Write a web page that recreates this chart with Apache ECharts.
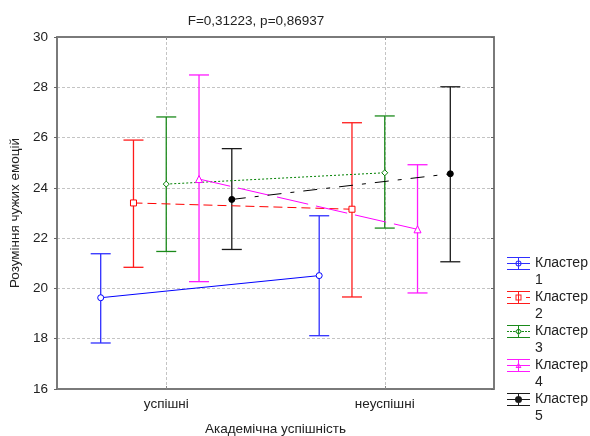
<!DOCTYPE html>
<html><head><meta charset="utf-8">
<script src="https://cdn.jsdelivr.net/npm/echarts@6/dist/echarts.min.js"></script>
<style>html,body{margin:0;padding:0;background:#fff}#c{width:590px;height:436px}</style>
</head><body><div id="c"></div>
<script>
// ---- data ----
const categories = ['успішні', 'неуспішні'];
const clusterNames = ['Кластер 1', 'Кластер 2', 'Кластер 3', 'Кластер 4', 'Кластер 5'];
const yTicks = [16, 18, 20, 22, 24, 26, 28, 30];
const mean1 = [19.63, 20.51], low1 = [17.83, 18.12], high1 = [21.38, 22.89];
const mean2 = [23.40, 23.15], low2 = [20.84, 19.66], high2 = [25.90, 26.59];
const mean3 = [24.15, 24.60], low3 = [21.47, 22.40], high3 = [26.82, 26.86];
const mean4 = [24.35, 22.35], low4 = [20.27, 19.82], high4 = [28.49, 24.92];
const mean5 = [23.54, 24.56], low5 = [21.55, 21.06], high5 = [25.56, 28.02];
const titleText = 'F=0,31223, p=0,86937';
const xName = 'Академічна успішність';
const yName = 'Розуміння чужих емоцій';

// ---- styling ----
const means = [mean1, mean2, mean3, mean4, mean5];
const lows = [low1, low2, low3, low4, low5];
const highs = [high1, high2, high3, high4, high5];
const colors = ['#0000ff', '#ff0000', '#008000', '#ff00ff', '#000000'];
const barColors = ['#2f2fff', '#ff1a1a', '#1a8a1a', '#ff1aff', '#1a1a1a'];
const symbols = ['circle', 'rect', 'diamond', 'triangle', 'circle'];
const hollow = [true, true, true, true, false];
const lineTypes = ['solid', [9, 5], [2, 2], [32, 8], [14, 9, 4, 9]];
const FONT = 'Liberation Sans, Arial, sans-serif';
const FS = 13.5;
const OFF = 0.3; // cluster offset in category-slot units

const slotLabels = ['', categories[0], '', categories[1], ''];
function xPos(catIdx, k) { return 2 * catIdx + 1 + (k - 2) * OFF; }

function iconPath(k) {
  // 23 x 34 box; icon in top half (all filled shapes clockwise, holes counter-clockwise)
  let p = 'M0,0 L0,0 M23,34 L23,34 ';
  p += 'M0,2 H23 V3 H0 Z M0,14 H23 V15 H0 Z M11,3 H12 V14 H11 Z ';
  if (k === 1) p += 'M0,8 H4 V9 H0 Z M19,8 H23 V9 H19 Z ';
  else if (k === 2) p += 'M0,8 H2 V9 H0 Z M3,8 H5 V9 H3 Z M6,8 H8 V9 H6 Z M15,8 H17 V9 H15 Z M18,8 H20 V9 H18 Z M21,8 H23 V9 H21 Z ';
  else p += 'M0,8 H23 V9 H0 Z ';
  if (k === 0) p += 'M8.5,8.5 A3,3 0 1,1 14.5,8.5 A3,3 0 1,1 8.5,8.5 Z M9.5,8.5 A2,2 0 1,0 13.5,8.5 A2,2 0 1,0 9.5,8.5 Z ';
  if (k === 1) p += 'M8.5,5.5 H14.5 V11.5 H8.5 Z M9.5,6.5 V10.5 H13.5 V6.5 Z ';
  if (k === 2) p += 'M11.5,5 L15,8.5 L11.5,12 L8,8.5 Z M11.5,6.4 L9.4,8.5 L11.5,10.6 L13.6,8.5 Z ';
  if (k === 3) p += 'M11.5,5.5 L14.5,11 L8.5,11 Z M11.5,7.5 L10.2,10 L12.8,10 Z ';
  if (k === 4) p += 'M8,8.5 A3.5,3.5 0 1,1 15,8.5 A3.5,3.5 0 1,1 8,8.5 Z ';
  return 'path://' + p;
}

const series = [];
for (let k = 0; k < 5; k++) {
  const c = barColors[k];
  series.push({
    type: 'custom', xAxisIndex: 2, yAxisIndex: 0, z: 2, silent: true,
    data: categories.map((_, i) => [xPos(i, k), lows[k][i], highs[k][i]]),
    renderItem: (params, api) => {
      const a = api.coord([api.value(0), api.value(1)]);
      const b = api.coord([api.value(0), api.value(2)]);
      const cx = a[0], yl = a[1], yh = b[1];
      const hw = 10;
      const st = { stroke: c, lineWidth: 1.3 };
      return { type: 'group', children: [
        { type: 'line', shape: { x1: cx, y1: yh, x2: cx, y2: yl }, style: st },
        { type: 'line', shape: { x1: cx - hw, y1: yh, x2: cx + hw, y2: yh }, style: st },
        { type: 'line', shape: { x1: cx - hw, y1: yl, x2: cx + hw, y2: yl }, style: st }
      ]};
    }
  });
}
for (let k = 0; k < 5; k++) {
  series.push({
    name: clusterNames[k], type: 'line', xAxisIndex: 2, yAxisIndex: 0, z: 3,
    data: categories.map((_, i) => [xPos(i, k), means[k][i]]),
    symbol: symbols[k], symbolSize: k === 3 ? 7 : 6, showSymbol: true,
    lineStyle: { color: colors[k], width: 1, type: lineTypes[k] },
    itemStyle: { color: hollow[k] ? '#ffffff' : colors[k], borderColor: colors[k], borderWidth: 1 },
    emphasis: { disabled: true }
  });
}

const axisLineStyle = { color: '#7a7a7a', width: 2 };
const splitStyle = { color: '#c4c4c4', type: [3, 2], width: 1 };
const showCat = (i) => i === 1 || i === 3;

const option = {
  animation: false,
  title: { text: titleText, left: 251, top: 9, textAlign: 'center',
    textStyle: { fontFamily: FONT, fontSize: FS, fontWeight: 'normal', color: '#222' } },
  grid: { left: 57, right: 96, top: 37, bottom: 47, outerBoundsMode: 'none', containLabel: false },
  legend: {
    orient: 'vertical', left: 507, top: 255, padding: 0, itemGap: 0, itemWidth: 23, itemHeight: 34,
    selectedMode: false,
    formatter: (n) => n.replace(' ', '\n'),
    textStyle: { fontFamily: FONT, fontSize: 14, color: '#222', lineHeight: 17 },
    data: clusterNames.map((n, k) => ({ name: n, icon: iconPath(k), itemStyle: { color: barColors[k], borderWidth: 0 } }))
  },
  xAxis: [
    { type: 'category', data: slotLabels, boundaryGap: false, position: 'bottom', gridIndex: 0,
      name: xName, nameLocation: 'middle', nameGap: 33,
      nameTextStyle: { fontFamily: FONT, fontSize: FS, color: '#222' },
      axisLine: { lineStyle: axisLineStyle },
      axisTick: { show: true, inside: true, length: 3, interval: showCat, lineStyle: { color: '#888' } },
      axisLabel: { interval: showCat, fontFamily: FONT, fontSize: FS, color: '#222', margin: 8 },
      splitLine: { show: true, interval: showCat, lineStyle: splitStyle } },
    { type: 'category', data: slotLabels, boundaryGap: false, position: 'top', gridIndex: 0,
      axisLine: { lineStyle: axisLineStyle },
      axisTick: { show: true, inside: true, length: 3, interval: showCat, lineStyle: { color: '#888' } },
      axisLabel: { show: false }, splitLine: { show: false } },
    { type: 'value', min: 0, max: 4, show: false, gridIndex: 0 }
  ],
  yAxis: [
    { type: 'value', min: yTicks[0], max: yTicks[yTicks.length - 1], interval: 2, position: 'left',
      name: yName, nameLocation: 'middle', nameGap: 31,
      nameTextStyle: { fontFamily: FONT, fontSize: FS, color: '#222' },
      axisLine: { show: true, lineStyle: axisLineStyle },
      axisTick: { show: true, length: 3, lineStyle: { color: '#666' } },
      axisLabel: { fontFamily: FONT, fontSize: FS, color: '#222', margin: 9 },
      splitLine: { show: true, lineStyle: splitStyle } },
    { type: 'value', min: yTicks[0], max: yTicks[yTicks.length - 1], interval: 2, position: 'right',
      axisLine: { show: true, lineStyle: axisLineStyle },
      axisTick: { show: true, inside: true, length: 3, lineStyle: { color: '#666' } },
      axisLabel: { show: false }, splitLine: { show: false } }
  ],
  series: series
};
const chart = echarts.init(document.getElementById('c'), null, { renderer: 'canvas' });
chart.setOption(option);
</script>
</body></html>
